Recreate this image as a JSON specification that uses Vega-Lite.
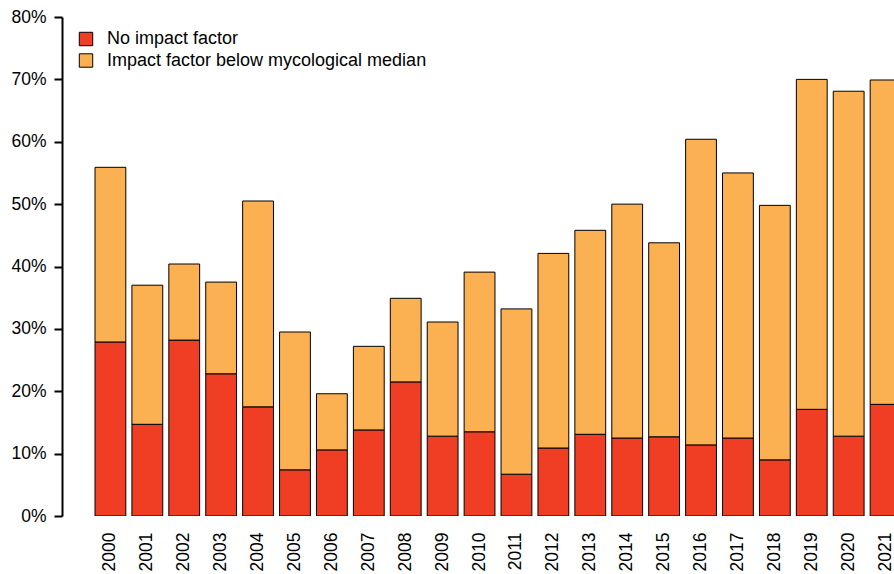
{
  "$schema": "https://vega.github.io/schema/vega-lite/v6.json",
  "autosize": {"type": "none"},
  "padding": {"left": 62, "top": 17, "right": 0, "bottom": 58},
  "width": 832,
  "height": 499,
  "config": {
    "view": {"stroke": null},
    "font": "Liberation Sans",
    "axis": {"labelFont": "Liberation Sans", "labelColor": "black", "grid": false}
  },
  "data": {
    "values": [
      {"year": "2000", "category": "No impact factor", "value": 0.279},
      {"year": "2000", "category": "Impact factor below mycological median", "value": 0.280},
      {"year": "2001", "category": "No impact factor", "value": 0.147},
      {"year": "2001", "category": "Impact factor below mycological median", "value": 0.223},
      {"year": "2002", "category": "No impact factor", "value": 0.282},
      {"year": "2002", "category": "Impact factor below mycological median", "value": 0.122},
      {"year": "2003", "category": "No impact factor", "value": 0.228},
      {"year": "2003", "category": "Impact factor below mycological median", "value": 0.147},
      {"year": "2004", "category": "No impact factor", "value": 0.175},
      {"year": "2004", "category": "Impact factor below mycological median", "value": 0.330},
      {"year": "2005", "category": "No impact factor", "value": 0.074},
      {"year": "2005", "category": "Impact factor below mycological median", "value": 0.221},
      {"year": "2006", "category": "No impact factor", "value": 0.106},
      {"year": "2006", "category": "Impact factor below mycological median", "value": 0.090},
      {"year": "2007", "category": "No impact factor", "value": 0.138},
      {"year": "2007", "category": "Impact factor below mycological median", "value": 0.134},
      {"year": "2008", "category": "No impact factor", "value": 0.215},
      {"year": "2008", "category": "Impact factor below mycological median", "value": 0.134},
      {"year": "2009", "category": "No impact factor", "value": 0.128},
      {"year": "2009", "category": "Impact factor below mycological median", "value": 0.183},
      {"year": "2010", "category": "No impact factor", "value": 0.135},
      {"year": "2010", "category": "Impact factor below mycological median", "value": 0.256},
      {"year": "2011", "category": "No impact factor", "value": 0.067},
      {"year": "2011", "category": "Impact factor below mycological median", "value": 0.265},
      {"year": "2012", "category": "No impact factor", "value": 0.109},
      {"year": "2012", "category": "Impact factor below mycological median", "value": 0.312},
      {"year": "2013", "category": "No impact factor", "value": 0.131},
      {"year": "2013", "category": "Impact factor below mycological median", "value": 0.327},
      {"year": "2014", "category": "No impact factor", "value": 0.125},
      {"year": "2014", "category": "Impact factor below mycological median", "value": 0.375},
      {"year": "2015", "category": "No impact factor", "value": 0.127},
      {"year": "2015", "category": "Impact factor below mycological median", "value": 0.311},
      {"year": "2016", "category": "No impact factor", "value": 0.114},
      {"year": "2016", "category": "Impact factor below mycological median", "value": 0.490},
      {"year": "2017", "category": "No impact factor", "value": 0.125},
      {"year": "2017", "category": "Impact factor below mycological median", "value": 0.425},
      {"year": "2018", "category": "No impact factor", "value": 0.090},
      {"year": "2018", "category": "Impact factor below mycological median", "value": 0.408},
      {"year": "2019", "category": "No impact factor", "value": 0.171},
      {"year": "2019", "category": "Impact factor below mycological median", "value": 0.529},
      {"year": "2020", "category": "No impact factor", "value": 0.128},
      {"year": "2020", "category": "Impact factor below mycological median", "value": 0.553},
      {"year": "2021", "category": "No impact factor", "value": 0.179},
      {"year": "2021", "category": "Impact factor below mycological median", "value": 0.520}
    ]
  },
  "mark": {"type": "bar", "stroke": "black", "strokeWidth": 1, "clip": true},
  "encoding": {
    "x": {
      "field": "year",
      "type": "ordinal",
      "scale": {"range": [0, 872], "paddingInner": 0.165, "paddingOuter": 0.894},
      "axis": {
        "title": null,
        "domain": false,
        "ticks": false,
        "labelAngle": -90,
        "labelFontSize": 17.5,
        "labelPadding": 16
      }
    },
    "y": {
      "field": "value",
      "type": "quantitative",
      "stack": "zero",
      "scale": {"domain": [0, 0.8], "nice": false},
      "axis": {
        "title": null,
        "format": ".0%",
        "values": [0, 0.1, 0.2, 0.3, 0.4, 0.5, 0.6, 0.7, 0.8],
        "domainColor": "black",
        "domainWidth": 2,
        "tickColor": "black",
        "tickWidth": 2,
        "tickSize": 8,
        "labelFontSize": 17.5,
        "labelPadding": 8
      }
    },
    "color": {
      "field": "category",
      "type": "nominal",
      "scale": {
        "domain": ["No impact factor", "Impact factor below mycological median"],
        "range": ["#EF3E24", "#FBB152"]
      },
      "legend": {
        "title": null,
        "orient": "none",
        "legendX": 15,
        "legendY": 13,
        "symbolType": "square",
        "symbolSize": 180,
        "symbolStrokeColor": "black",
        "symbolStrokeWidth": 1,
        "labelFontSize": 18,
        "labelFont": "Liberation Sans",
        "labelColor": "black",
        "labelOffset": 12,
        "labelLimit": 0,
        "rowPadding": 3.5
      }
    },
    "order": {"field": "category", "sort": "descending"}
  }
}
